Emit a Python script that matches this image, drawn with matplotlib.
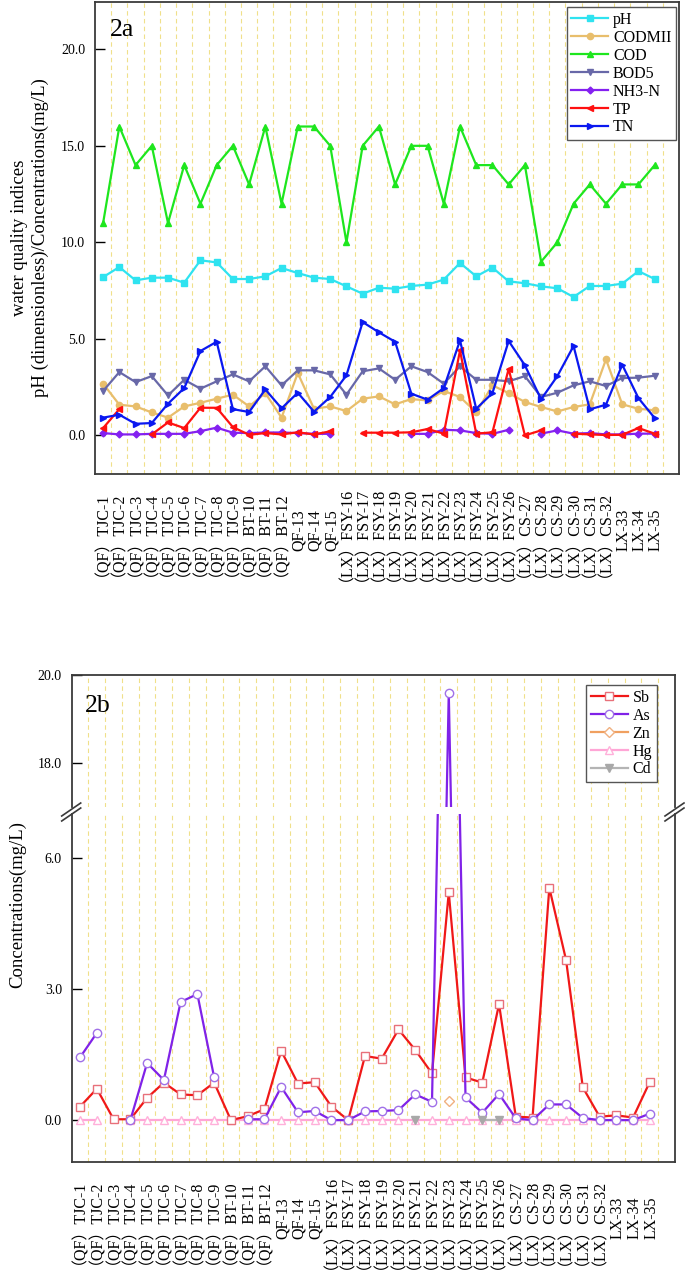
import numpy as np
import matplotlib
matplotlib.use('Agg')
import matplotlib.pyplot as plt
from matplotlib.lines import Line2D
from matplotlib.ticker import FormatStrFormatter
from matplotlib.transforms import blended_transform_factory, ScaledTranslation

plt.rcParams['font.family'] = ['Liberation Serif', 'Noto Sans CJK SC']
plt.rcParams['font.size'] = 11

nan = np.nan

sites = ['（QF）TJC-1', '（QF）TJC-2', '（QF）TJC-3', '（QF）TJC-4', '（QF）TJC-5',
         '（QF）TJC-6', '（QF）TJC-7', '（QF）TJC-8', '（QF）TJC-9', '（QF）BT-10',
         '（QF）BT-11', '（QF）BT-12', 'QF-13', 'QF-14', 'QF-15',
         '（LX）FSY-16', '（LX）FSY-17', '（LX）FSY-18', '（LX）FSY-19', '（LX）FSY-20',
         '（LX）FSY-21', '（LX）FSY-22', '（LX）FSY-23', '（LX）FSY-24', '（LX）FSY-25',
         '（LX）FSY-26', '（LX）CS-27', '（LX）CS-28', '（LX）CS-29', '（LX）CS-30',
         '（LX）CS-31', '（LX）CS-32', 'LX-33', 'LX-34', 'LX-35']

# 2a - water quality indices
ph = [8.20, 8.72, 8.03, 8.17, 8.17, 7.91, 9.07, 8.96, 8.10, 8.10, 8.24, 8.67, 8.41, 8.17, 8.10,
      7.72, 7.34, 7.65, 7.60, 7.74, 7.81, 8.07, 8.93, 8.24, 8.69, 7.98, 7.88, 7.72, 7.62, 7.17,
      7.74, 7.74, 7.86, 8.51, 8.10]
codmn = [2.68, 1.59, 1.50, 1.19, 0.92, 1.50, 1.69, 1.90, 2.11, 1.50, 2.19, 0.92, 3.23, 1.38, 1.50,
         1.26, 1.90, 2.02, 1.61, 1.88, 1.81, 2.30, 1.99, 1.19, 2.59, 2.19, 1.73, 1.47, 1.24, 1.47,
         1.61, 3.94, 1.61, 1.38, 1.30]
cod = [11, 16, 14, 15, 11, 14, 12, 14, 15, 13, 16, 12, 16, 16, 15,
       10, 15, 16, 13, 15, 15, 12, 16, 14, 14, 13, 14, 9, 10, 12,
       13, 12, 13, 13, 14]
bod5 = [2.30, 3.28, 2.76, 3.07, 2.07, 2.88, 2.42, 2.80, 3.16, 2.80, 3.58, 2.59, 3.37, 3.37, 3.16,
        2.11, 3.32, 3.47, 2.88, 3.58, 3.28, 2.68, 3.58, 2.88, 2.88, 2.80, 3.07, 1.99, 2.21, 2.59,
        2.80, 2.56, 2.97, 2.99, 3.09]
nh3n = [0.12, 0.05, 0.05, 0.08, 0.08, 0.08, 0.22, 0.40, 0.14, 0.12, 0.15, 0.15, 0.12, 0.08, 0.08,
        nan, nan, nan, nan, 0.08, 0.08, 0.29, 0.26, 0.12, 0.08, 0.29, nan, 0.09, 0.26, 0.09,
        0.12, 0.05, 0.05, 0.09, 0.09]
tp = [0.38, 1.36, nan, 0.05, 0.67, 0.38, 1.43, 1.43, 0.43, 0.03, 0.12, 0.05, 0.16, 0.05, 0.21,
      nan, 0.14, 0.14, 0.14, 0.16, 0.33, 0.09, 4.40, 0.09, 0.16, 3.45, 0.0, 0.26, nan, 0.09,
      0.05, 0.02, 0.03, 0.38, 0.09]
tn = [0.92, 1.07, 0.60, 0.64, 1.64, 2.45, 4.37, 4.85, 1.36, 1.21, 2.38, 1.40, 2.21, 1.23, 1.99,
      3.11, 5.87, 5.34, 4.85, 2.16, 1.85, 2.45, 4.92, 1.38, 2.19, 4.89, 3.63, 1.87, 3.07, 4.63,
      1.35, 1.59, 3.66, 1.93, 0.90]

# 2b - heavy metals
sb = [0.31, 0.72, 0.02, 0.02, 0.51, 0.86, 0.59, 0.57, 0.86, 0.0, 0.09, 0.25, 1.59, 0.84, 0.87,
      0.31, 0.0, 1.47, 1.41, 2.08, 1.61, 1.07, 5.22, 0.98, 0.86, 2.66, 0.08, 0.06, 5.33, 3.67,
      0.75, 0.08, 0.11, 0.06, 0.88]
as_ = [1.44, 2.00, nan, 0.0, 1.31, 0.92, 2.71, 2.89, 0.98, nan, 0.02, 0.02, 0.76, 0.18, 0.21,
       0.0, 0.0, 0.20, 0.21, 0.23, 0.59, 0.42, 19.6, 0.52, 0.17, 0.60, 0.04, 0.0, 0.36, 0.36,
       0.05, 0.0, 0.0, 0.0, 0.15]
zn = [nan] * 22 + [0.44] + [nan] * 12
hg = [0.0, 0.0, nan] + [0.0] * 32
cd = [nan] * 20 + [0.0, nan, nan, nan, 0.0, 0.0] + [nan] * 9

W, H = 685, 1272
fig = plt.figure(figsize=(W / 100, H / 100), dpi=100)
x = np.arange(len(sites))


def pxbox(l, t, r, b):
    return [l / W, 1 - b / H, (r - l) / W, (b - t) / H]


def style_axis(ax):
    ax.set_xlim(-0.5, 35.5)
    ax.set_xticks(x)
    ax.set_xticks(x + 0.5, minor=True)
    ax.grid(which='minor', axis='x', color='#F0E08A', ls=(0, (4, 3)), lw=0.8)
    ax.set_axisbelow(True)
    ax.tick_params(axis='x', which='both', length=0, labelbottom=False)
    ax.tick_params(axis='y', direction='in', length=7, width=1, labelsize=10, pad=7)
    ax.yaxis.set_major_formatter(FormatStrFormatter('%.1f'))
    for s in ax.spines.values():
        s.set_color('#3a3a3a')
        s.set_linewidth(1.3)


def site_labels(ax):
    # rotated site names centred ~56 px below the axis;
    # names with the CJK brackets render a bit to the right, so pull them back
    base = blended_transform_factory(ax.transData, ax.transAxes)
    for i, s in enumerate(sites):
        dx = -4.5 if '（' in s else 5.3
        tr = base + ScaledTranslation(dx / 100, -56 / 100, fig.dpi_scale_trans)
        ax.text(x[i], 0, s, transform=tr, rotation=90, rotation_mode='anchor',
                ha='center', va='baseline', fontsize=11.5)


#top panel
ax1 = fig.add_axes(pxbox(95, 2, 679, 474))
style_axis(ax1)
lw = 1.6
ax1.plot(x, ph, color='#2FE3F0', marker='s', ms=4.5, lw=lw, label='pH')
ax1.plot(x, codmn, color='#E8BE6C', marker='o', ms=4.5, lw=lw, label='CODMII')
ax1.plot(x, cod, color='#1EE61E', marker='^', ms=5, lw=lw, label='COD')
ax1.plot(x, bod5, color='#6868A8', marker='v', ms=5, lw=lw, label='BOD5')
ax1.plot(x, nh3n, color='#8420F0', marker='D', ms=3.5, lw=lw, label='NH3-N')
ax1.plot(x, tp, color='#FF1010', marker='<', ms=5, lw=lw, label='TP')
ax1.plot(x, tn, color='#0A18F0', marker='>', ms=5, lw=lw, label='TN')
ax1.set_ylim(-2.0, 22.45)
ax1.set_yticks([0, 5, 10, 15, 20])
site_labels(ax1)
ax1.text(0.026, 0.928, '2a', transform=ax1.transAxes, fontsize=18.5, va='baseline')
ax1.legend(loc='upper right', bbox_to_anchor=(0.995, 0.989), borderaxespad=0,
           fancybox=False, edgecolor='#555555', framealpha=1, fontsize=11.5,
           handlelength=2.3, labelspacing=0.12, handletextpad=0.3, borderpad=0.3)
fig.text(30 / W, 1 - 238 / H, 'water quality indices\npH (dimensionless)/Concentrations(mg/L)',
         rotation=90, ha='center', va='center', fontsize=13.5, linespacing=1.3)

#bottom panel, broken y axis
ax2u = fig.add_axes(pxbox(71.7, 675, 675, 807))
ax2l = fig.add_axes(pxbox(71.7, 814, 675, 1162))
handles = []
for ax in (ax2u, ax2l):
    style_axis(ax)
    ax.plot(x, hg, color='#FFA6D6', marker='^', ms=6, mfc='white', mec='#FFB0DA', lw=lw, zorder=2)
    h1, = ax.plot(x, sb, color='#F01818', marker='s', ms=6, mfc='white', mec='#E8707A', lw=lw, zorder=3)
    h2, = ax.plot(x, as_, color='#8022E8', marker='o', ms=6, mfc='white', mec='#A070E8', lw=lw, zorder=3)
    h3, = ax.plot(x, zn, color='#F0A060', marker='D', ms=5, mfc='white', mec='#F0B080', lw=lw, zorder=3)
    h4 = Line2D([], [], color='#FFA6D6', marker='^', ms=6, mfc='white', mec='#FFB0DA', lw=lw)
    h5, = ax.plot(x, cd, color='#B4B4B4', marker='v', ms=6, mfc='#A8A8A8', mec='#A8A8A8', lw=lw, zorder=4)
    handles = [h1, h2, h3, h4, h5]

ax2u.set_ylim(17.0, 20.0)
ax2u.set_yticks([18, 20])
ax2u.spines['bottom'].set_visible(False)
ax2l.set_ylim(-0.96, 7.02)
ax2l.set_yticks([0, 3, 6])
ax2l.spines['top'].set_visible(False)
site_labels(ax2l)

ax2u.text(0.022, 0.72, '2b', transform=ax2u.transAxes, fontsize=18.5, va='baseline')
ax2u.legend(handles, ['Sb', 'As', 'Zn', 'Hg', 'Cd'], loc='upper right',
            bbox_to_anchor=(0.970, 0.924), borderaxespad=0, fancybox=False,
            edgecolor='#555555', framealpha=1, fontsize=11.5, handlelength=2.3,
            labelspacing=0.12, handletextpad=0.3, borderpad=0.3)
fig.text(18 / W, 1 - 905 / H, 'Concentrations(mg/L)', rotation=90,
         ha='center', va='center', fontsize=13.5)

# break marks on the y axis
for xs in (71.7, 675):
    for dy in (0, 5):
        fig.add_artist(Line2D([(xs - 10) / W, (xs + 9) / W],
                              [1 - (816 + dy) / H, 1 - (803 + dy) / H],
                              color='#3a3a3a', lw=1.2))

fig.savefig('out.png', dpi=100)
